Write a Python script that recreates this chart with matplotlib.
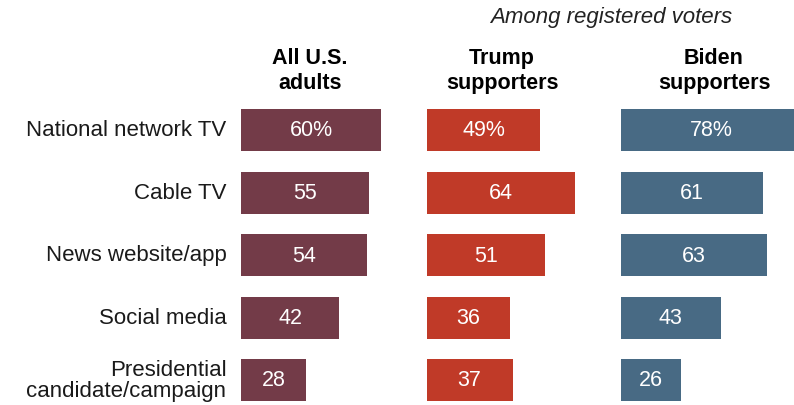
import matplotlib.pyplot as plt

# Share of each group who got election news from each source
sources = ["National network TV", "Cable TV", "News website/app", "Social media",
           "Presidential\ncandidate/campaign"]
all_adults = [60, 55, 54, 42, 28]
trump = [49, 64, 51, 36, 37]
biden = [78, 61, 63, 43, 26]

groups = ["All U.S.\nadults", "Trump\nsupporters", "Biden\nsupporters"]
series = [all_adults, trump, biden]
colors = ["#733B48", "#C03A28", "#486A84"]

plt.rcParams["font.family"] = ["Liberation Sans", "DejaVu Sans"]

W, H = 794, 406
fig = plt.figure(figsize=(W / 100, H / 100), dpi=100)

px_per_unit = 2.32
xmax = 80
panel_left = [241.5, 426.7, 621]
header_x = [310, 502, 714]
row_top, row_pitch = 131 - 31.25, 62.5
ax_h = row_pitch * len(sources)

for i, (vals, color) in enumerate(zip(series, colors)):
    left = panel_left[i]
    width = xmax * px_per_unit
    ax = fig.add_axes([left / W, (H - row_top - ax_h) / H, width / W, ax_h / H])
    ypos = range(len(sources))
    bars = ax.barh(ypos, vals, height=0.672, color=color)
    ax.set_xlim(0, xmax)
    ax.set_ylim(len(sources) - 0.5, -0.5)
    ax.axis("off")
    for j, (b, v) in enumerate(zip(bars, vals)):
        label = f"{v}%" if j == 0 else f"{v}"
        ax.text(v / 2, j, label, ha="center", va="center", color="white",
                fontsize=15.5)
    if i == 0:
        for j, s in enumerate(sources):
            ax.text(-6.5, j, s, ha="right", va="center", fontsize=16,
                    color="#1a1a1a", linespacing=1.05, clip_on=False)
    fig.text(header_x[i] / W, 1 - 71 / H, groups[i], ha="center", va="center",
             fontsize=15.5, fontweight="bold", linespacing=1.3)

fig.text(611 / W, 1 - 18 / H, "Among registered voters", ha="center", va="center",
         fontsize=16, style="italic", color="#222222")

fig.savefig("out.png", dpi=100)
